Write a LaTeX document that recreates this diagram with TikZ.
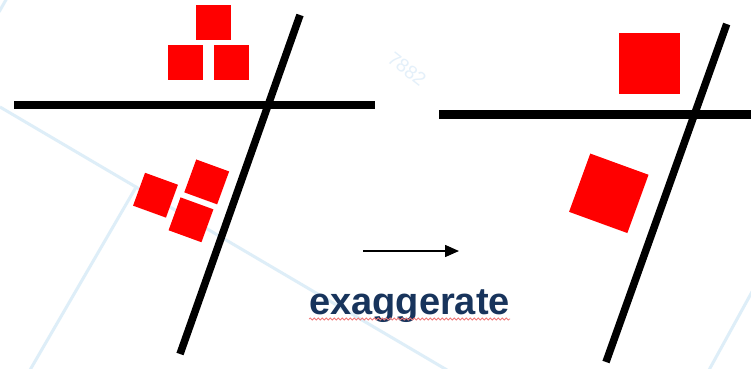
\documentclass[tikz,border=0pt]{standalone}
\usepackage{fontspec}
\setmainfont{Liberation Sans}
\usetikzlibrary{arrows.meta,decorations.pathmorphing}
\definecolor{wmblue}{RGB}{222,238,248}
\definecolor{wmtext}{RGB}{228,240,250}
\definecolor{navytext}{RGB}{24,52,92}
\definecolor{squigred}{RGB}{240,120,120}
\tikzset{
  sq/.style={fill=red, draw=none, inner sep=0pt, outer sep=0pt},
  axisline/.style={line width=8.5pt, line cap=butt, black},
  slantline/.style={line width=7.5pt, line cap=butt, black},
  wmline/.style={line width=3pt, wmblue},
  arrowline/.style={line width=1.5pt, -{Triangle[length=14pt,width=12pt]}},
  squig/.style={squigred, line width=0.8pt, decorate, decoration={snake, segment length=4pt, amplitude=1pt}},
}
\begin{document}
\begin{tikzpicture}[x=1pt,y=-1pt]
\useasboundingbox (0,0) rectangle (751,368);
\fill[white] (0,0) rectangle (751,368);
% faint watermark
\coordinate (w1a) at (0,107);
\coordinate (w1b) at (447,370);
\coordinate (w2a) at (136.7,186);
\coordinate (w2b) at (30,370);
\coordinate (w3a) at (709,370);
\coordinate (w3b) at (753,290);
\coordinate (w4a) at (7,-2);
\coordinate (w4b) at (-1,12);
\draw[wmline] (w1a) -- (w1b);
\draw[wmline] (w2a) -- (w2b);
\draw[wmline] (w3a) -- (w3b);
\draw[wmline] (w4a) -- (w4b);
\node[wmtext, font=\fontsize{19}{19}\selectfont, rotate=-38] (wm) at (407,69) {7882};
% left panel
\coordinate (lh1) at (14,105);
\coordinate (lh2) at (375,105);
\coordinate (ls1) at (300,15);
\coordinate (ls2) at (180,354);
\draw[axisline] (lh1) -- (lh2);
\draw[slantline] (ls1) -- (ls2);
\node[sq, minimum size=35pt] (t1) at (213,22.5) {};
\node[sq, minimum size=35pt] (t2) at (185.5,62.5) {};
\node[sq, minimum size=35pt] (t3) at (231.5,62.5) {};
\node[sq, minimum size=35pt, rotate=-20] (r1) at (155.5,195.2) {};
\node[sq, minimum size=35pt, rotate=-20] (r2) at (206.7,181.9) {};
\node[sq, minimum size=35pt, rotate=-20] (r3) at (191,219.8) {};
% arrow and label
\coordinate (a1) at (363,251);
\coordinate (a2) at (459,251);
\draw[arrowline] (a1) -- (a2);
\node[anchor=base west, inner sep=0pt, navytext, font=\bfseries\fontsize{38}{38}\selectfont] (txt) at (309,314) {exaggerate};
\draw[squig] ([yshift=-5pt]txt.base west) -- ([yshift=-5pt]txt.base east);
% right panel
\coordinate (rh1) at (439,114.5);
\coordinate (rh2) at (751,114.5);
\coordinate (rs1) at (726.7,24);
\coordinate (rs2) at (606,362);
\draw[axisline] (rh1) -- (rh2);
\draw[slantline] (rs1) -- (rs2);
\node[sq, minimum size=61pt] (bt) at (649.7,63) {};
\node[sq, minimum size=62pt, rotate=-20] (br) at (608.8,193.3) {};
\end{tikzpicture}
\end{document}
